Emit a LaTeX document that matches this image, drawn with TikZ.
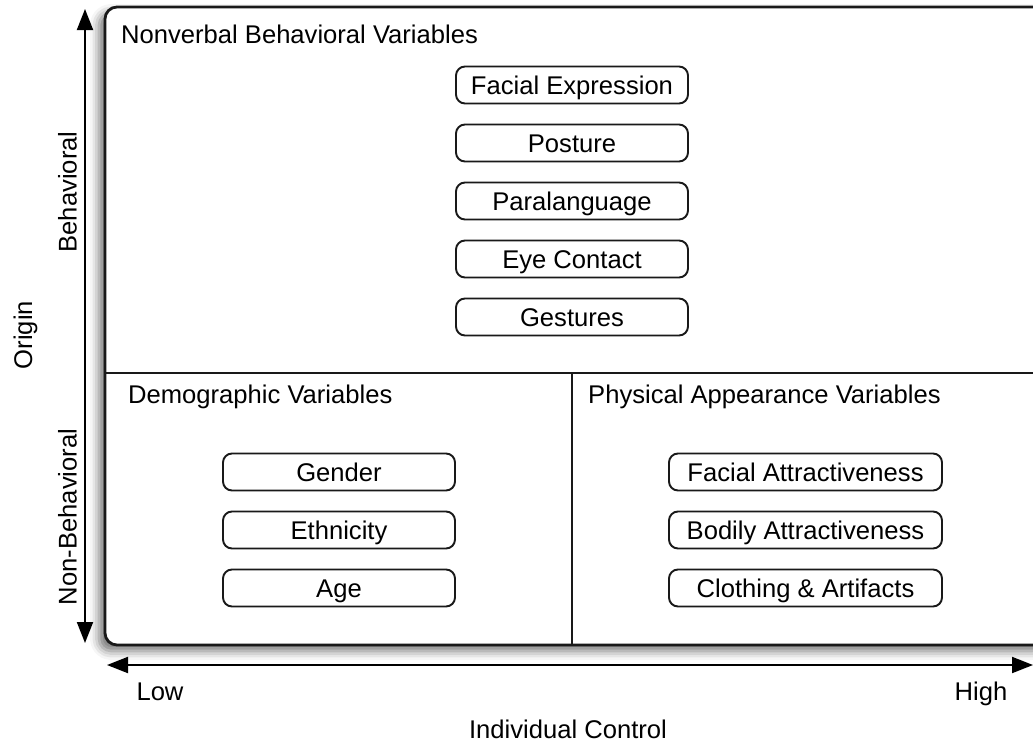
\documentclass[tikz,border=0pt]{standalone}
\usepackage{fontspec}
\setmainfont{Liberation Sans}
\usetikzlibrary{arrows.meta,shadows.blur}
\begin{document}
\begin{tikzpicture}[x=1pt,y=-1pt,
  lbl/.style={font=\fontsize{25.6}{30}\selectfont, inner sep=0pt, text=black},
  varbox/.style={draw=black!90, line width=1.9pt, rounded corners=9pt, minimum width=232pt,
    minimum height=37pt, inner sep=0pt, text height=18.4pt, text depth=0pt,
    font=\fontsize{25.6}{30}\selectfont, text=black},
  widebox/.style={varbox, minimum width=273pt},
  axis/.style={line width=2pt, draw=black, {Triangle[length=21pt,width=16pt]}-{Triangle[length=21pt,width=16pt]}},
  frame/.style={draw=black!90, line width=2.8pt, rounded corners=12pt, fill=white,
    blur shadow={shadow xshift=-6pt, shadow yshift=-6pt, shadow blur radius=9pt, shadow opacity=55}},
  divider/.style={draw=black!90, line width=2pt},
]
\useasboundingbox (0,0) rectangle (1033,744);

% main frame
\path[frame] (105,7) rectangle (1050,645);
\draw[divider] (105,373) -- (1050,373);
\draw[divider] (572,373) -- (572,645);

% section headings
\node[lbl, anchor=base west] (hnv) at (121,43) {Nonverbal Behavioral Variables};
\node[lbl, anchor=base west] (hdem) at (128,403) {Demographic Variables};
\node[lbl, anchor=base west] (hphy) at (588,403) {Physical Appearance Variables};

% nonverbal boxes
\node[varbox] (fe) at (572,85) {Facial Expression};
\node[varbox] (po) at (572,143) {Posture};
\node[varbox] (pa) at (572,201) {Paralanguage};
\node[varbox] (ec) at (572,259) {Eye Contact};
\node[varbox] (ge) at (572,317) {Gestures};

% demographic boxes
\node[varbox] (gen) at (339,472) {Gender};
\node[varbox] (eth) at (339,530) {Ethnicity};
\node[varbox] (age) at (339,588) {Age};

% physical appearance boxes
\node[widebox] (fa) at (805.5,472) {Facial Attractiveness};
\node[widebox] (ba) at (805.5,530) {Bodily Attractiveness};
\node[widebox] (ca) at (805.5,588) {Clothing \& Artifacts};

% axes
\coordinate (vtop) at (85,9);
\coordinate (vbot) at (85,643);
\draw[axis] (vbot) -- (vtop);
\coordinate (hleft) at (107,665);
\coordinate (hright) at (1033,665);
\draw[axis] (hleft) -- (hright);

% axis labels
\node[lbl, rotate=90, anchor=base] (origin) at (32,335) {Origin};
\node[lbl, rotate=90, anchor=base] (beh) at (76.5,192) {Behavioral};
\node[lbl, rotate=90, anchor=base] (nbeh) at (76.5,517) {Non-Behavioral};
\node[lbl, anchor=base] (low) at (160,700) {Low};
\node[lbl, anchor=base] (high) at (981,700) {High};
\node[lbl, anchor=base] (ic) at (568,738) {Individual Control};
\end{tikzpicture}
\end{document}
